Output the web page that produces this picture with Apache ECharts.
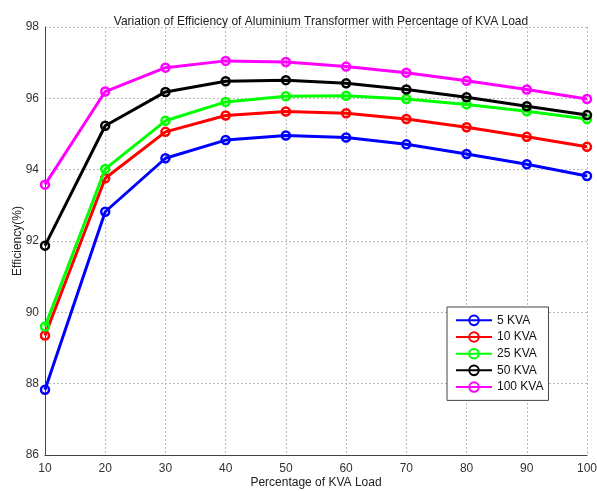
<html>
<head>
<title>Variation of Efficiency of Aluminium Transformer</title>
<script src="https://cdn.jsdelivr.net/npm/echarts@6/dist/echarts.min.js"></script>
</head>
<body>
<style>
    html, body, #main {
        width: 100%;
        height: 100%;
        margin: 0;
        background: #fff;
    }
</style>
<div id="main"></div>
<script>

// percentage of KVA load
var loads = [10, 20, 30, 40, 50, 60, 70, 80, 90, 100];

// efficiency (%) per transformer rating
var eff5   = [87.83, 92.82, 94.32, 94.83, 94.96, 94.90, 94.71, 94.44, 94.15, 93.82];
var eff10  = [89.35, 93.76, 95.06, 95.52, 95.63, 95.58, 95.42, 95.19, 94.92, 94.64];
var eff25  = [89.60, 94.02, 95.37, 95.90, 96.06, 96.07, 95.98, 95.83, 95.64, 95.42];
var eff50  = [91.87, 95.23, 96.18, 96.48, 96.51, 96.42, 96.25, 96.03, 95.78, 95.53];
var eff100 = [93.58, 96.19, 96.86, 97.05, 97.02, 96.89, 96.72, 96.49, 96.25, 95.98];

var names  = ['5 KVA', '10 KVA', '25 KVA', '50 KVA', '100 KVA'];
var colors = ['#0000ff', '#ff0000', '#00ff00', '#000000', '#ff00ff'];
var values = [eff5, eff10, eff25, eff50, eff100];

function pairs(ys) {
    return loads.map(function(x, i) { return [x, ys[i]]; });
}

var myChart = echarts.init(document.getElementById('main'));

var series = names.map(function(name, i) {
    return {
        name: name,
        type: 'line',
        data: pairs(values[i]),
        symbol: 'circle',
        symbolSize: 8,
        lineStyle: { color: colors[i], width: 3 },
        itemStyle: { color: 'rgba(255,255,255,0)', borderColor: colors[i], borderWidth: 2.5 },
        emphasis: { disabled: true },
        z: 2 + i
    };
});

var option = {
    animation: false,
    textStyle: { fontFamily: 'Liberation Sans' },
    title: {
        text: 'Variation of Efficiency of Aluminium Transformer with Percentage of KVA Load',
        left: 316,
        textAlign: 'center',
        top: 6,
        textStyle: { fontSize: 12, fontWeight: 'normal', color: '#222' }
    },
    grid: { left: 45, right: 10, top: 27, bottom: 36, outerBoundsMode: 'none', containLabel: false },
    legend: {
        orient: 'vertical',
        left: 447,
        top: 307,
        itemWidth: 36,
        itemHeight: 12,
        itemGap: -4,
        padding: [3, 5, 3, 8],
        borderColor: '#444',
        borderWidth: 1,
        backgroundColor: '#fff',
        textStyle: { fontSize: 12, lineHeight: 12, color: '#111' },
        data: names
    },
    xAxis: {
        type: 'value',
        min: 10,
        max: 100,
        interval: 10,
        name: 'Percentage of KVA Load',
        nameLocation: 'middle',
        nameGap: 17,
        nameMoveOverlap: false,
        nameTextStyle: { fontSize: 12, color: '#222' },
        axisLine: { lineStyle: { color: '#444' } },
        axisTick: { show: false },
        axisLabel: { fontSize: 12, color: '#333', margin: 3 },
        splitLine: { show: true, lineStyle: { color: '#bbb', type: [2, 2] } }
    },
    yAxis: {
        type: 'value',
        min: 86,
        max: 98,
        interval: 2,
        name: 'Efficiency(%)',
        nameLocation: 'middle',
        nameGap: 17,
        nameMoveOverlap: false,
        nameTextStyle: { fontSize: 12, color: '#222' },
        axisLine: { show: true, lineStyle: { color: '#444' } },
        axisTick: { show: false },
        axisLabel: { fontSize: 12, color: '#333', margin: 6 },
        splitLine: { show: true, lineStyle: { color: '#bbb', type: [2, 2] } }
    },
    series: series
};

myChart.setOption(option);

</script>
</body>
</html>
